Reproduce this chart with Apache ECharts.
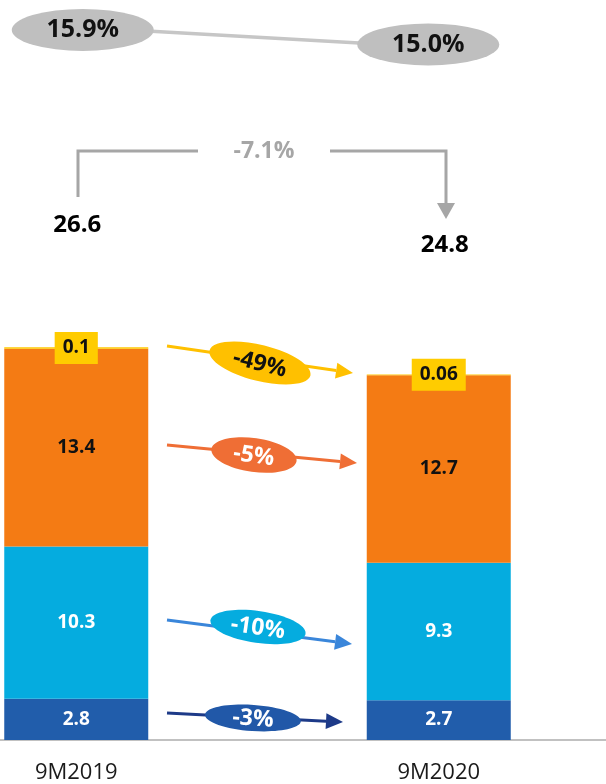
<!DOCTYPE html>
<html>
<head>
<meta charset="utf-8">
<script src="https://cdn.jsdelivr.net/npm/echarts@6/dist/echarts.min.js"></script>
<style>
html,body{margin:0;padding:0;background:#fff}
#chart{width:606px;height:784px}
</style>
</head>
<body>
<div id="chart"></div>
<script>
// Periods and stacked segment values (bottom to top)
const periods = ['9M2019', '9M2020'];
const segDarkBlue = [2.8, 2.7];
const segLightBlue = [10.3, 9.3];
const segOrange = [13.4, 12.7];
const segYellow = [0.1, 0.06];
const totals = [26.6, 24.8];
const margins = [15.9, 15.0];
const totalChange = '-7.1%';
// Period-over-period change for each segment, bottom to top
const segChanges = ['-3%', '-10%', '-5%', '-49%'];

const FONT = '"Open Sans", sans-serif';
const colors = {
  darkBlue: '#215DAB',
  lightBlue: '#05ACDF',
  orange: '#F47B14',
  yellow: '#FFC800'
};

const chart = echarts.init(document.getElementById('chart'), null, { renderer: 'canvas' });

function segLabel(color) {
  return {
    show: true, position: 'inside', color: color,
    fontFamily: FONT, fontWeight: 'bold', fontSize: 19
  };
}

function stackSeries(name, data, color, labelColor) {
  return {
    name: name, type: 'bar', stack: 'total', data: data,
    xAxisIndex: 0, yAxisIndex: 0,
    barWidth: 144,
    itemStyle: { color: color },
    label: segLabel(labelColor),
    emphasis: { disabled: true }
  };
}

// Change arrows between the two bars: line, arrowhead and tilted badge
function changeArrow(x1, y1, x2, y2, lineColor, badge) {
  const ang = Math.atan2(y2 - y1, x2 - x1);
  const len = 17, hw = 8;
  const bx = x2 - len * Math.cos(ang), by = y2 - len * Math.sin(ang);
  const px = -Math.sin(ang) * hw, py = Math.cos(ang) * hw;
  return [
    { type: 'line', shape: { x1: x1, y1: y1, x2: bx, y2: by },
      style: { stroke: lineColor, lineWidth: 3 }, z: 10 },
    { type: 'polygon', shape: { points: [[x2, y2], [bx + px, by + py], [bx - px, by - py]] },
      style: { fill: lineColor }, z: 10 },
    { type: 'group', x: badge.cx, y: badge.cy, rotation: -badge.rot * Math.PI / 180, z: 11,
      children: [
        { type: 'ellipse', shape: { cx: 0, cy: 0, rx: badge.rx, ry: badge.ry },
          style: { fill: badge.fill }, z: 11 },
        { type: 'text', x: 0, y: 1, z: 12,
          style: { text: badge.text, fill: badge.textColor, font: 'bold 23px ' + FONT,
                   align: 'center', verticalAlign: 'middle' } }
      ] }
  ];
}

const grey = '#A6A6A6';
const graphics = [
  // bracket for the change in totals
  { type: 'polyline', shape: { points: [[78, 197], [78, 151], [198, 151]] },
    style: { stroke: grey, lineWidth: 3, fill: null } },
  { type: 'polyline', shape: { points: [[330, 151], [446, 151], [446, 204]] },
    style: { stroke: grey, lineWidth: 3, fill: null } },
  { type: 'polygon', shape: { points: [[437, 203], [455, 203], [446, 219]] },
    style: { fill: grey } },
  { type: 'text', x: 264, y: 151,
    style: { text: totalChange, fill: grey, font: 'bold 23px ' + FONT,
             align: 'center', verticalAlign: 'middle' } }
].concat(
  changeArrow(167, 346, 353, 373, '#FFC000',
    { cx: 260, cy: 363, rx: 52, ry: 18, rot: 14, fill: '#FFC000', text: segChanges[3], textColor: '#111' }),
  changeArrow(167, 445, 357, 463, '#EF6E35',
    { cx: 254, cy: 455, rx: 43, ry: 17, rot: 8, fill: '#EF6E35', text: segChanges[2], textColor: '#fff' }),
  changeArrow(167, 620, 352, 644, '#3A86DA',
    { cx: 258, cy: 627, rx: 48, ry: 16, rot: 8, fill: colors.lightBlue, text: segChanges[1], textColor: '#fff' }),
  changeArrow(167, 713, 343, 722, '#1D3A88',
    { cx: 253, cy: 718, rx: 48, ry: 13, rot: 4, fill: '#2158A8', text: segChanges[0], textColor: '#fff' })
);

const option = {
  animation: false,
  backgroundColor: '#fff',
  textStyle: { fontFamily: FONT },
  grid: [
    { left: -105, right: -14, top: 297, bottom: 44, outerBoundsMode: 'none', containLabel: false },
    { left: -105, right: -14, top: 2, height: 68.3, outerBoundsMode: 'none', containLabel: false }
  ],
  xAxis: [
    { type: 'category', gridIndex: 0, data: periods,
      axisLine: { show: true, lineStyle: { color: '#ADADAD', width: 1.5 } },
      axisTick: { show: false },
      axisLabel: { margin: 22, fontSize: 22, color: '#1a1a1a', fontFamily: FONT } },
    { type: 'category', gridIndex: 1, data: periods, show: false }
  ],
  yAxis: [
    { type: 'value', gridIndex: 0, min: 0, max: 30, show: false, splitLine: { show: false } },
    { type: 'value', gridIndex: 1, min: 14, max: 17, show: false, splitLine: { show: false } }
  ],
  series: [
    stackSeries('a', segDarkBlue, colors.darkBlue, '#fff'),
    stackSeries('b', segLightBlue, colors.lightBlue, '#fff'),
    stackSeries('c', segOrange, colors.orange, '#111'),
    Object.assign(stackSeries('d', segYellow, colors.yellow, '#111'), {
      label: Object.assign(segLabel('#111'), { backgroundColor: '#FFCC00', padding: [7, 8, 6, 8] }),
      z: 3
    }),
    {
      type: 'scatter', xAxisIndex: 0, yAxisIndex: 0,
      symbolSize: 1, itemStyle: { color: 'rgba(0,0,0,0)', opacity: 1 },
      data: [
        { value: totals[0], label: { offset: [1, -122] } },
        { value: totals[1], label: { offset: [6, -129] } }
      ],
      label: { show: true, position: 'inside', color: '#000', opacity: 1, fontFamily: FONT,
               fontWeight: 'bold', fontSize: 24, formatter: p => p.value.toFixed(1) },
      emphasis: { disabled: true }, z: 5
    },
    {
      type: 'line', xAxisIndex: 1, yAxisIndex: 1,
      data: [
        { value: margins[0], symbolOffset: [6.5, 2.9] },
        { value: margins[1], symbolOffset: [-10.5, -3.1] }
      ],
      symbol: 'circle', symbolSize: [142, 42],
      itemStyle: { color: '#BFBFBF' },
      lineStyle: { color: '#C6C6C6', width: 3.5 },
      label: { show: true, position: 'inside', color: '#111', fontFamily: FONT,
               fontWeight: 'bold', fontSize: 25, formatter: p => p.value.toFixed(1) + '%' },
      emphasis: { disabled: true }
    }
  ],
  graphic: graphics
};

chart.setOption(option);
</script>
</body>
</html>
